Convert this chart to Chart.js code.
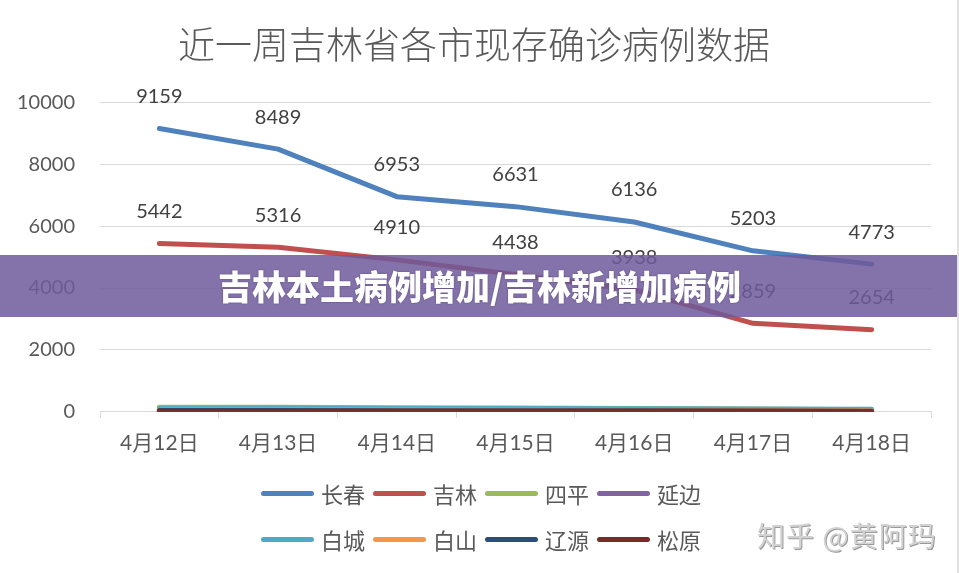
<!DOCTYPE html>
<html lang="zh">
<head>
<meta charset="UTF-8" />
<title>近一周吉林省各市现存确诊病例数据</title>
<script src="https://cdn.jsdelivr.net/npm/chart.js@4.4.1/dist/chart.umd.min.js"></script>
<style>
  body { margin: 0; background: #fff; }
  #wrap { position: relative; width: 959px; height: 573px; overflow: hidden; }
  #wrap canvas { position: absolute; left: 0; top: 0; }
  #legend { position: absolute; left: 261px; top: 470px; width: 460px;
            display: flex; flex-wrap: wrap; font-family: "Noto Sans CJK SC", sans-serif;
            font-size: 22px; color: #595959; }
  #legend .item { width: 112px; height: 46px; display: flex; align-items: center; }
  #legend .sw { display: inline-block; width: 53px; height: 5px; border-radius: 3px; margin-right: 7px; }
  #banner { position: absolute; left: 0; top: 255px; width: 959px; height: 62px;
            background: rgba(110, 90, 155, 0.85); color: #fff; text-align: center;
            font-family: "Noto Sans CJK SC", sans-serif; font-weight: 900; font-size: 34px;
            line-height: 62px; text-shadow: 0 0 2px rgba(60,40,90,0.6); }
  #mark { position: absolute; left: 757px; top: 515px; font-family: "Noto Sans CJK SC", sans-serif;
          font-size: 28px; letter-spacing: 1px; color: #d2d2d2; text-shadow: 1px 1px 0 #9a9a9a; }
  #edge { position: absolute; right: 0; top: 0; width: 2px; height: 573px; background: #e2e2e2; }
</style>
</head>
<body>
<div id="wrap">
  <canvas id="myChart" width="959" height="573"></canvas>
  <div id="legend"></div>
  <div id="banner">吉林本土病例增加/吉林新增加病例</div>
  <div id="mark">知乎 @黄阿玛</div>
  <div id="edge"></div>
</div>
<script>
const labels = ['4月12日', '4月13日', '4月14日', '4月15日', '4月16日', '4月17日', '4月18日'];
const cities = ['长春', '吉林', '四平', '延边', '白城', '白山', '辽源', '松原'];
const colors = ['#4F81BD', '#C0504D', '#9BBB59', '#8064A2', '#4BACC6', '#F79646', '#2C4D75', '#772C2A'];

const changchun = [9159, 8489, 6953, 6631, 6136, 5203, 4773];
const jilin     = [5442, 5316, 4910, 4438, 3938, 2859, 2654];
const siping    = [150, 150, 130, 120, 110, 90, 70];
const yanbian   = [60, 55, 50, 45, 40, 35, 30];
const baicheng  = [110, 120, 110, 105, 100, 90, 85];
const baishan   = [60, 60, 55, 50, 45, 40, 35];
const liaoyuan  = [40, 40, 35, 30, 30, 25, 20];
const songyuan  = [20, 20, 20, 15, 15, 15, 10];

const series = [changchun, jilin, siping, yanbian, baicheng, baishan, liaoyuan, songyuan];
const labelled = [0, 1]; // only these two show values

const numFont = 'Lato, "Noto Sans CJK SC", sans-serif';

// draw value labels above points
const valueLabels = {
    id: 'valueLabels',
    afterDatasetsDraw(chart) {
        const ctx = chart.ctx;
        ctx.save();
        ctx.font = '20px ' + numFont;
        ctx.fillStyle = '#404040';
        ctx.textAlign = 'center';
        ctx.textBaseline = 'middle';
        labelled.forEach(i => {
            const meta = chart.getDatasetMeta(i);
            meta.data.forEach((pt, j) => {
                ctx.fillText(chart.data.datasets[i].data[j], pt.x, pt.y - 32);
            });
        });
        ctx.restore();
    }
};

const datasets = series.map((d, i) => ({
    label: cities[i],
    data: d,
    borderColor: colors[i],
    backgroundColor: colors[i],
    borderWidth: 5,
    pointRadius: 0,
    tension: 0,
    fill: false,
    borderCapStyle: 'round',
    borderJoinStyle: 'round',
    order: series.length - i
}));

const ctx = document.getElementById('myChart').getContext('2d');
const myChart = new Chart(ctx, {
    type: 'line',
    data: { labels: labels, datasets: datasets },
    options: {
        responsive: false,
        animation: false,
        layout: { padding: { left: 17, right: 28, top: 0, bottom: 104 } },
        plugins: {
            legend: { display: false },
            tooltip: { enabled: false },
            title: {
                display: true,
                text: '近一周吉林省各市现存确诊病例数据',
                color: '#595959',
                font: { family: '"Noto Sans CJK SC", sans-serif', size: 37, weight: 300 },
                padding: { top: 23, bottom: 35 }
            }
        },
        scales: {
            x: {
                offset: true,
                grid: { display: true, offset: true, drawOnChartArea: false, drawTicks: true, tickLength: 6, color: '#d9d9d9' },
                border: { display: true, color: '#d9d9d9' },
                ticks: { color: '#595959', padding: 13, font: { family: numFont, size: 21 }, maxRotation: 0 }
            },
            y: {
                min: 0,
                max: 10000,
                afterFit: function (scale) { scale.width = 83; },
                grid: { color: '#d9d9d9', drawTicks: false },
                border: { display: false },
                ticks: {
                    stepSize: 2000, color: '#595959', padding: 25, font: { family: numFont, size: 20 },
                    callback: function (value) { return String(value); }
                }
            }
        }
    },
    plugins: [valueLabels]
});

// legend built from the same arrays
const legend = document.getElementById('legend');
cities.forEach((c, i) => {
    const item = document.createElement('div');
    item.className = 'item';
    item.innerHTML = '<span class="sw" style="background:' + colors[i] + '"></span>' + c;
    legend.appendChild(item);
});
</script>
</body>
</html>
